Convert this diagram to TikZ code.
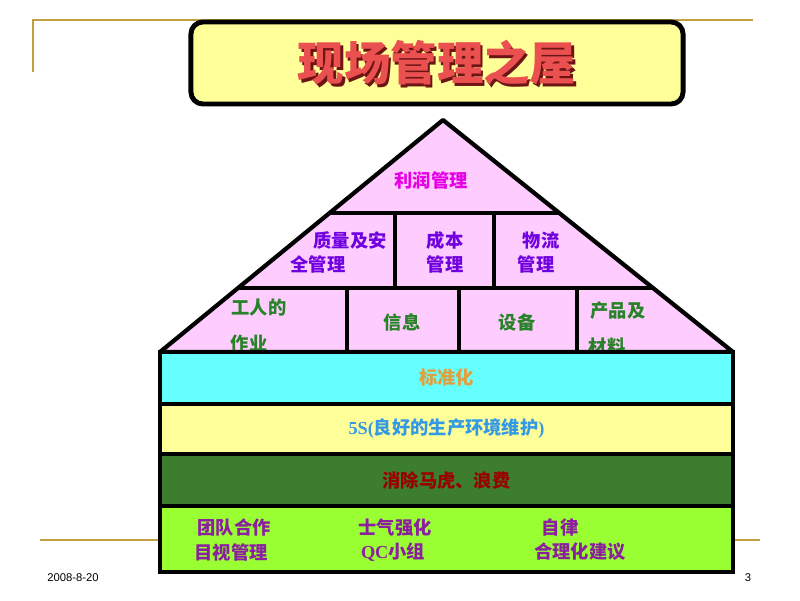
\documentclass[tikz,border=0pt]{standalone}
\usepackage{fontspec}
\setmainfont{Liberation Serif}
\newfontfamily\cjk{Noto Sans CJK SC}
\newfontfamily\footfont{Liberation Sans}
\usetikzlibrary{calc}

\definecolor{gold}{RGB}{192,160,64}
\definecolor{paleyellow}{RGB}{255,255,153}
\definecolor{titlered}{RGB}{235,80,80}
\definecolor{titleshadow}{RGB}{110,20,20}
\definecolor{roofpink}{RGB}{255,204,255}
\definecolor{topmagenta}{RGB}{230,0,230}
\definecolor{midviolet}{RGB}{112,0,224}
\definecolor{lowgreen}{RGB}{40,130,40}
\definecolor{bandcyan}{RGB}{102,255,255}
\definecolor{bandgreen}{RGB}{61,125,46}
\definecolor{bandlime}{RGB}{153,255,51}
\definecolor{stdorange}{RGB}{224,160,64}
\definecolor{fivesblue}{RGB}{51,153,230}
\definecolor{wastered}{RGB}{153,0,0}
\definecolor{basepurple}{RGB}{140,30,160}

\newcommand{\shadowtext}[1]{\makebox[0pt][l]{\hspace{1.6pt}\raisebox{-1.6pt}{\color{titleshadow}#1}}#1}

\begin{document}
\begin{tikzpicture}[x=0.025cm, y=-0.025cm, line width=3pt,
  txt/.style={font=\cjk\bfseries\fontsize{13}{15}\selectfont, inner sep=1pt},
  band/.style={draw=black, line width=3pt, minimum width=14.325cm, inner sep=0pt},
  roof/.style={draw=black, fill=roofpink, line join=round}]
  \useasboundingbox (0,0) rectangle (800,600);

  % slide frame
  \draw[gold, line width=1.5pt] (33,72) -- (33,20) -- (753,20);
  \draw[gold, line width=1.5pt] (40,540) -- (760,540);

  % title
  \node[draw=black, line width=3.5pt, rounded corners=0.3cm, fill=paleyellow,
        minimum width=12.3cm, minimum height=2.05cm] (title) at (437,63) {};
  \node[font=\cjk\bfseries\fontsize{33}{33}\selectfont, text=titlered] (titletext) at (437,64)
    {\shadowtext{现场管理之屋}};

  % roof
  \coordinate (apex) at (443,120);
  \coordinate (eaveL) at (160,352);
  \coordinate (eaveR) at (733,352);
  \draw[roof] (eaveL) -- (apex) -- (eaveR) -- cycle;
  \draw ($(eaveL)!0.6!(apex)$) -- ($(eaveR)!0.6!(apex)$);
  \draw ($(eaveL)!0.275!(apex)$) -- ($(eaveR)!0.275!(apex)$);
  \draw (395,213) -- (395,288);
  \draw (494,213) -- (494,288);
  \draw (347,288) -- (347,352);
  \draw (459,288) -- (459,352);
  \draw (577,288) -- (577,352);

  \node[txt, text=topmagenta] (profit) at (431,180) {利润管理};
  \node[txt, text=midviolet] (quality1) at (350,241) {质量及安};
  \node[txt, text=midviolet] (quality2) at (318,264) {全管理};
  \node[txt, text=midviolet] (cost1) at (445,241) {成本};
  \node[txt, text=midviolet] (cost2) at (445,264) {管理};
  \node[txt, text=midviolet] (logis1) at (541,241) {物流};
  \node[txt, text=midviolet] (logis2) at (536,264) {管理};
  \node[txt, text=lowgreen] (work1) at (259,308) {工人的};
  \node[txt, text=lowgreen] (work2) at (249,344) {作业};
  \node[txt, text=lowgreen] (info) at (402,322) {信息};
  \node[txt, text=lowgreen] (equip) at (517,322) {设备};
  \node[txt, text=lowgreen] (prod1) at (618,311) {产品及};
  \node[txt, text=lowgreen] (prod2) at (607,347) {材料};

  % foundation bands
  \node[band, fill=bandcyan, minimum height=1.3cm, txt, text=stdorange] (std) at (446.5,378) {标准化};
  \node[band, fill=paleyellow, minimum height=1.25cm, txt, text=fivesblue] (fives) at (446.5,429)
    {{\rmfamily 5S(}良好的生产环境维护{\rmfamily )}};
  \node[band, fill=bandgreen, minimum height=1.3cm, txt, text=wastered] (waste) at (446.5,480) {消除马虎、浪费};
  \node[band, fill=bandlime, minimum height=1.65cm] (base) at (446.5,539) {};

  \node[txt, text=basepurple] (team) at (234,528) {团队合作};
  \node[txt, text=basepurple] (morale) at (395,528) {士气强化};
  \node[txt, text=basepurple] (discip) at (560,528) {自律};
  \node[txt, text=basepurple] (visual) at (231,552) {目视管理};
  \node[txt, text=basepurple] (qc) at (393,552) {{\rmfamily QC}小组};
  \node[txt, text=basepurple] (suggest) at (580,552) {合理化建议};

  % footer
  \node[font=\footfont\fontsize{8}{9}\selectfont] (date) at (73,578) {2008-8-20};
  \node[font=\footfont\fontsize{8}{9}\selectfont] (page) at (748,578) {3};
\end{tikzpicture}
\end{document}
